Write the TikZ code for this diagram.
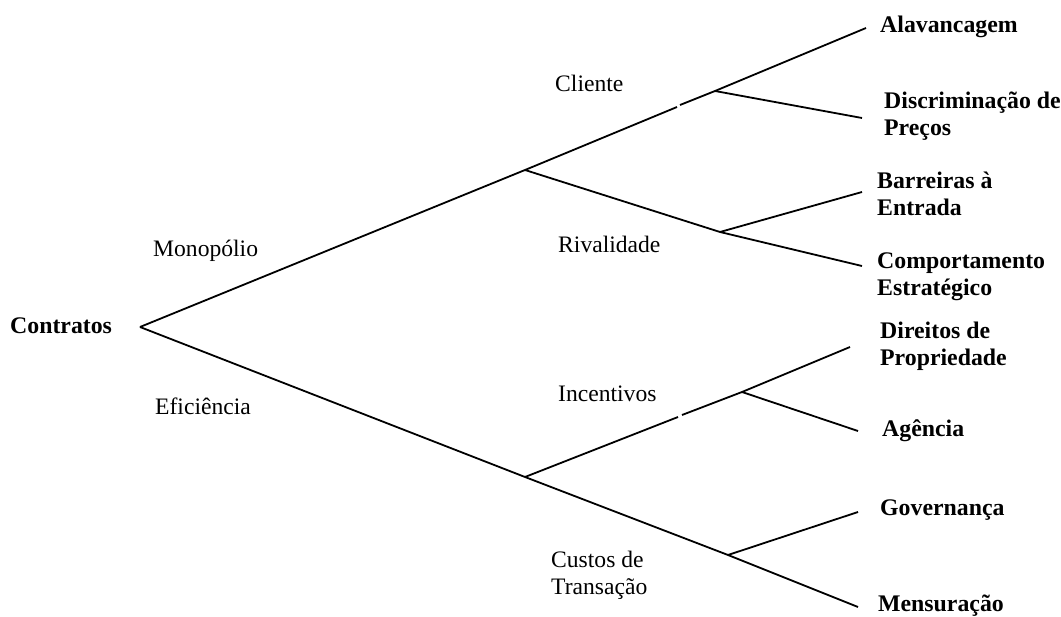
\documentclass[tikz,border=0pt]{standalone}
\usepackage{fontspec}
\setmainfont{Liberation Serif}
\begin{document}
\begin{tikzpicture}[x=1pt,y=-1pt,
  lbl/.style={anchor=west,inner sep=0pt,align=left,font=\fontsize{23.6}{27}\selectfont,text height=0.68em,text depth=0.2em},
  leaf/.style={lbl,font=\fontsize{23.8}{27}\selectfont\bfseries},
  br/.style={line width=1.8pt,line cap=butt}]
\useasboundingbox[fill=white] (0,0) rectangle (1061,617);
% labels (y = visual centre of last line)
\node[leaf] (contratos) at (10,331) {Contratos};
\node[lbl] (monop) at (153,254) {Monopólio};
\node[lbl] (efic) at (155,412) {Eficiência};
\node[lbl] (cliente) at (555,89) {Cliente};
\node[lbl] (rival) at (558,250) {Rivalidade};
\node[lbl] (incent) at (558,399) {Incentivos};
\node[lbl] (custos) at (551,592) {Custos de\\Transação};
\node[leaf] (alav) at (880,30) {Alavancagem};
\node[leaf] (discr) at (884,133) {Discriminação de\\Preços};
\node[leaf] (barr) at (877,213) {Barreiras à\\Entrada};
\node[leaf] (comp) at (877,293) {Comportamento\\Estratégico};
\node[leaf] (dir) at (880,363) {Direitos de\\Propriedade};
\node[leaf] (agen) at (882,434) {Agência};
\node[leaf] (gov) at (880,513) {Governança};
\node[leaf] (mens) at (878,609) {Mensuração};
% junctions and free ends
\coordinate (r) at (140,327);
\coordinate (jm) at (525,170);
\coordinate (je) at (525,477);
\coordinate (ga) at (677,107);
\coordinate (gb) at (680,105);
\coordinate (jc) at (715,91);
\coordinate (jr) at (720,232);
\coordinate (gc) at (678,417);
\coordinate (gd) at (682,415);
\coordinate (ji) at (742,392);
\coordinate (jt) at (728,555);
\coordinate (eAlav) at (866,28);
\coordinate (eDiscr) at (862,118);
\coordinate (eBarr) at (862,192);
\coordinate (eComp) at (862,266);
\coordinate (eDir) at (850,347);
\coordinate (eAgen) at (858,431);
\coordinate (eGov) at (858,512);
\coordinate (eMens) at (858,607);
% connectors
\draw[br] (r) -- (jm);
\draw[br] (r) -- (je);
\draw[br] (jm) -- (ga);
\draw[br] (gb) -- (jc) -- (eAlav);
\draw[br] (jc) -- (eDiscr);
\draw[br] (jm) -- (jr) -- (eComp);
\draw[br] (jr) -- (eBarr);
\draw[br] (je) -- (gc);
\draw[br] (gd) -- (ji) -- (eDir);
\draw[br] (ji) -- (eAgen);
\draw[br] (je) -- (jt) -- (eMens);
\draw[br] (jt) -- (eGov);
\end{tikzpicture}
\end{document}
